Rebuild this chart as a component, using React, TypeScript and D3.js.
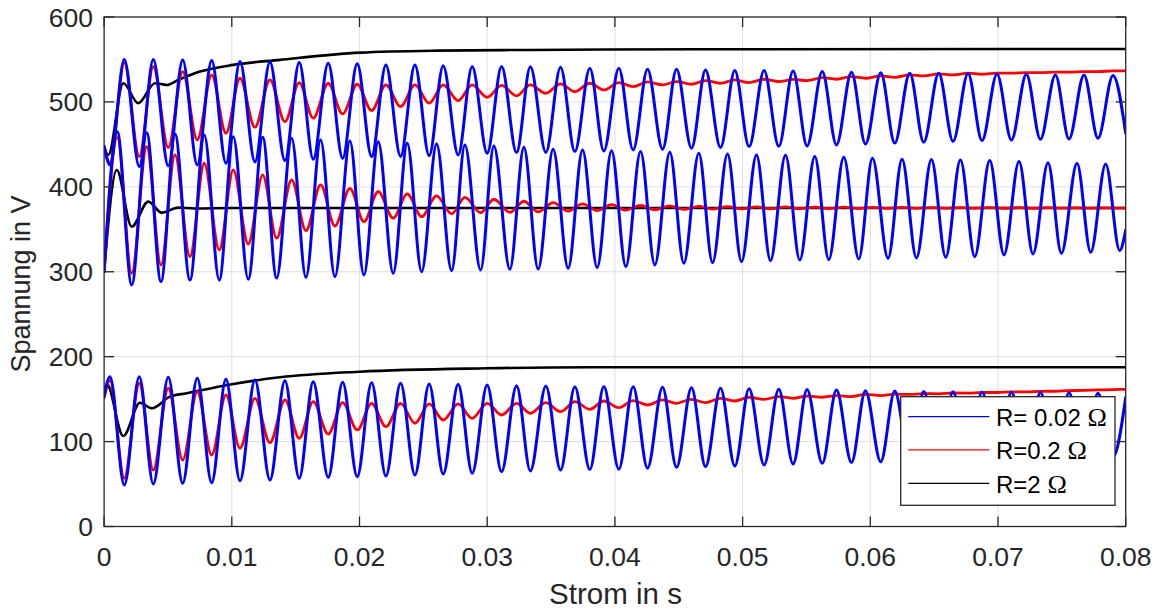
import React from "react";
import * as d3 from "d3";

// ---------- data (time in s, voltage in V) ----------
// extrema times shared by the upper and lower groups (start, then trough/peak pairs of the upper curve, end)
const upperTimes = [0,
  0.000462, 0.001581, 0.002756, 0.003852, 0.005026, 0.006153, 0.007296, 0.008423,
  0.009543, 0.010639, 0.011813, 0.012987, 0.014161, 0.015281, 0.016377, 0.017551,
  0.018679, 0.019822, 0.020949, 0.022068, 0.023219, 0.024339, 0.025458, 0.026554,
  0.027728, 0.028824, 0.029999, 0.031126, 0.032300, 0.033380, 0.034594, 0.035744,
  0.036864, 0.038038, 0.039134, 0.040308, 0.041428, 0.042555, 0.043730, 0.044825,
  0.046000, 0.047096, 0.048270, 0.049389, 0.050509, 0.051683, 0.052834, 0.053954,
  0.055049, 0.056239, 0.057351, 0.058525, 0.059621, 0.060819, 0.061915, 0.063089,
  0.064185, 0.065359, 0.066479, 0.067653, 0.068749, 0.069924, 0.071051, 0.072225,
  0.073321, 0.074495, 0.075560, 0.076734, 0.077830, 0.079005,
  0.08];

const upperBlue = [448,
  425.8, 550, 423.8, 550, 424.6, 549.5, 425.8, 548.7, 427.8, 547.5, 429.5, 547,
  430.9, 546.3, 432.5, 545.6, 433.7, 544.8, 435.6, 543.6, 435.8, 543.6, 436.7, 542.7,
  437.6, 541.6, 439.6, 541.6, 440.3, 541.4, 440.5, 540.9, 441.5, 539.7, 442.3, 539.7,
  443.5, 538.5, 444.3, 538.5, 445.5, 537.7, 446.2, 536.9, 447.4, 536.9, 447.8, 536.5,
  448.2, 535.7, 449.4, 535, 450.5, 534.2, 451.5, 533.8, 452.5, 533.8, 453.5, 533.5,
  454.4, 533, 455.2, 532.6, 456, 531.8, 456.4, 531.8, 457.2, 531,
  463];

const upperRed = [447,
  428, 546, 435.6, 541.6, 446.2, 535.7, 455.2, 531.8, 463.1, 527.9, 470.2, 525.9,
  476.8, 522.7, 480.8, 522, 485.9, 520.8, 489.8, 520, 494.5, 520, 498.5, 520,
  501.5, 520, 505.5, 519.5, 507.1, 520, 510.2, 521.2, 512.1, 522, 514.1, 522.7,
  518, 523.6, 520, 523.9, 520.8, 525.1, 522, 525.9, 522.7, 526.7, 523.9, 526.5,
  525.1, 528.5, 526.7, 529.8, 527.9, 530.6, 529, 531.8, 530.6, 533, 531.8, 533.8,
  532.6, 533.9, 533.8, 534.5, 534.4, 535, 535, 535.7, 535.7, 536.5,
  536.5];

const lowerBlue = [153,
  176.4, 48.9, 176.4, 50.1, 175.7, 50.9, 174.6, 51.6, 173.4, 53.9, 172.6, 54.8,
  171.7, 56.8, 170.6, 57.9, 169.8, 58.7, 169.4, 59.5, 168.7, 60.7, 167.8, 61.8,
  167.5, 62.7, 166.7, 64.5, 165.8, 65.4, 165.5, 66.5, 164.7, 67, 164.8, 67.4,
  164.5, 68.6, 164, 69.7, 163.3, 70.4, 162.8, 71.3, 162.2, 72.4, 161.6, 73.6,
  161.2, 74.5, 160.8, 75.3, 160, 76.3, 159.5, 77, 159, 77.8, 158.7, 78.5,
  158.3, 79.3, 158, 80, 157.7, 80.7, 157.4, 81.4, 157, 82,
  152];

const lowerRed = [151,
  172, 56.8, 168.7, 66.5, 162.8, 78.3, 158.8, 84.2, 154.9, 92.1, 151, 98.7,
  149, 103.9, 147, 108.9, 145.8, 113.7, 145.1, 117.5, 145.1, 121.6, 144.3, 125.4,
  144.3, 127.4, 145.1, 131.3, 145.1, 133.3, 145.8, 135.2, 147, 138, 147.8, 139.9,
  148.3, 143.1, 149, 145.1, 149.8, 145.8, 151, 147.8, 152.2, 149.8, 152.9, 151,
  153.7, 152.2, 154.1, 152.9, 155.7, 154.1, 155.8, 155.5, 156.5, 156.3, 157.2, 157.1,
  157.8, 157.8, 158.5, 158.5, 159.2, 159.3, 160, 160.3, 160.8, 161.2,
  161.6];

// extrema times of the middle group (start, then peak/trough pairs, end)
const middleTimes = [0,
  0.001033, 0.002161, 0.003335, 0.004454, 0.005550, 0.006725, 0.007844, 0.009018,
  0.010114, 0.011289, 0.012416, 0.013512, 0.014686, 0.015806, 0.016956, 0.018076,
  0.019250, 0.020346, 0.021465, 0.022640, 0.023736, 0.024863, 0.026037, 0.027212,
  0.028253, 0.029482, 0.030523, 0.031776, 0.032872, 0.033991, 0.035165, 0.036340,
  0.037467, 0.038610, 0.039737, 0.040857, 0.042007, 0.043127, 0.044301, 0.045397,
  0.046571, 0.047644, 0.048818, 0.049914, 0.051088, 0.052184, 0.053358, 0.054478,
  0.055652, 0.056748, 0.057922, 0.059097, 0.060169, 0.061390, 0.062486, 0.063614,
  0.064788, 0.065907, 0.067058, 0.068178, 0.069352, 0.070471, 0.071646, 0.072742,
  0.073916, 0.074965, 0.076186, 0.077259, 0.078433, 0.079529,
  0.08];

const middleBlue = [300,
  465, 284.5, 463.8, 288.4, 462.3, 290.3, 461.1, 290.3, 459.1, 291.2, 458.4, 292.5,
  457.2, 293.5, 455.2, 294.3, 454.1, 296.2, 453.2, 298.2, 451.3, 300.1, 450.5, 301.3,
  449.4, 302.1, 448.2, 302.9, 446.5, 303.2, 444.3, 304.1, 443.5, 304.8, 442.6, 306,
  441.5, 308, 440.7, 310, 439.6, 310.7, 438.7, 311.9, 437.6, 313.1, 437.2, 313.9,
  435.6, 314.3, 434.8, 315.1, 433.7, 315.9, 432.5, 316.3, 432.3, 317.1, 431.7, 317.8,
  430.9, 319.8, 429.7, 321, 428.5, 321.8, 427.8, 323, 427, 324.9,
  349];

const middleRed = [300,
  458, 298.2, 447.4, 308, 437.6, 317.8, 427.8, 325.7, 419.9, 332.7, 414, 339.5,
  408.1, 348.4, 402.2, 353.9, 398.3, 359, 394.3, 363, 391.6, 364.9, 389.3, 368.1,
  387.7, 369.6, 385.4, 370, 383, 370.5, 381.4, 371.5, 380, 372, 379, 372.5,
  378, 373, 377.5, 373.5, 377, 373.7, 376.7, 374, 376.5, 374.2, 376.3, 374.3,
  376.2, 374.4, 376, 374.5, 375.8, 374.6, 375.7, 374.7, 375.6, 374.7, 375.5, 374.8,
  375.5, 374.8, 375.4, 374.8, 375.4, 374.9, 375.3, 374.9, 375.3, 374.9,
  375];

// R = 2 Ω curves (heavily damped)
const upperBlackT = [0, 0.000329, 0.001503, 0.002677, 0.003985, 0.004901, 0.005809, 0.007507,
  0.010114, 0.01377, 0.020033, 0.026037, 0.033341, 0.046649, 0.08];
const upperBlack = [447, 437.6, 522, 498.5, 522, 520, 525.9, 535.7,
  543.6, 549.5, 558, 560.4, 561.2, 562, 562.4];

const middleBlackT = [0, 0.000986, 0.002161, 0.00346, 0.004509, 0.005809, 0.007116, 0.009856, 0.08];
const middleBlack = [300, 419.9, 353.1, 382.6, 369.6, 375.5, 374.5, 375, 375];

const lowerBlackT = [0, 0.000204, 0.001503, 0.00281, 0.003726, 0.005159, 0.006466,
  0.010114, 0.01377, 0.020033, 0.029952, 0.038038, 0.08];
const lowerBlack = [158, 168, 106.6, 145.8, 139.2, 152.9, 156.9,
  167.8, 175.7, 182.3, 186.3, 187.5, 187.5];

const xTicks = [0, 0.01, 0.02, 0.03, 0.04, 0.05, 0.06, 0.07, 0.08];
const xTickLabels = ["0", "0.01", "0.02", "0.03", "0.04", "0.05", "0.06", "0.07", "0.08"];
const yTicks = [0, 100, 200, 300, 400, 500, 600];

const legendNames = ["R= 0.02 ", "R=0.2 ", "R=2 "];
const legendColors = ["#0000ff", "#ff0000", "#000000"];

// ---------- layout ----------
const W = 1161, H = 610;
const L = 104.1, R = 1125.7, T = 17, B = 526.5;
const TXT = "#262626";
const FONT = "'Liberation Sans', Arial, Helvetica, sans-serif";

export default function App() {
  const x = d3.scaleLinear().domain([0, 0.08]).range([L, R]);
  const y = d3.scaleLinear().domain([0, 600]).range([B, T]);

  const mk = (ts: number[], vs: number[]) =>
    d3.line<number>()
      .x((_, i) => x(ts[i]))
      .y((v) => y(v))
      .curve(d3.curveMonotoneX)(vs) || "";

  const blackPaths = [mk(upperBlackT, upperBlack), mk(middleBlackT, middleBlack), mk(lowerBlackT, lowerBlack)];
  const redPaths = [mk(upperTimes, upperRed), mk(middleTimes, middleRed), mk(upperTimes, lowerRed)];
  const bluePaths = [mk(upperTimes, upperBlue), mk(middleTimes, middleBlue), mk(upperTimes, lowerBlue)];

  const tickLen = 10;
  const lgX = 900.7, lgY = 396.7, lgW = 214.3, lgH = 108.6;
  const rowY = [416.7, 449.8, 483.3];

  return (
    <svg width={W} height={H} style={{ position: "absolute", left: 0, top: 0, background: "#fff" }}
      fontFamily={FONT}>
      <defs>
        <clipPath id="plotclip">
          <rect x={L} y={T} width={R - L} height={B - T} />
        </clipPath>
      </defs>
      <rect x={0} y={0} width={W} height={H} fill="#fff" />
      {/* grid */}
      <g stroke="#dfdfdf" strokeWidth={1}>
        {xTicks.slice(1, -1).map((t) => (
          <line key={"gx" + t} x1={x(t)} x2={x(t)} y1={T} y2={B} />
        ))}
        {yTicks.slice(1, -1).map((v) => (
          <line key={"gy" + v} x1={L} x2={R} y1={y(v)} y2={y(v)} />
        ))}
      </g>
      {/* data */}
      <g clipPath="url(#plotclip)" fill="none" strokeLinejoin="round" strokeLinecap="round">
        {blackPaths.map((d, i) => <path key={"k" + i} d={d} stroke="#000" strokeWidth={2.6} />)}
        {redPaths.map((d, i) => <path key={"r" + i} d={d} stroke="#ff0000" strokeWidth={2.8} />)}
        {bluePaths.map((d, i) => <path key={"b" + i} d={d} stroke="#0000ff" strokeWidth={3} />)}
      </g>
      {/* axes box and ticks */}
      <g stroke={TXT} strokeWidth={1.3} fill="none">
        <rect x={L} y={T} width={R - L} height={B - T} />
        {xTicks.map((t) => (
          <g key={"tx" + t}>
            <line x1={x(t)} x2={x(t)} y1={B} y2={B - tickLen} />
            <line x1={x(t)} x2={x(t)} y1={T} y2={T + tickLen} />
          </g>
        ))}
        {yTicks.map((v) => (
          <g key={"ty" + v}>
            <line x1={L} x2={L + tickLen} y1={y(v)} y2={y(v)} />
            <line x1={R} x2={R - tickLen} y1={y(v)} y2={y(v)} />
          </g>
        ))}
      </g>
      {/* tick labels */}
      <g fill={TXT} fontSize={26.5}>
        {xTicks.map((t, i) => (
          <text key={"lx" + t} x={x(t)} y={566} textAnchor="middle">{xTickLabels[i]}</text>
        ))}
        {yTicks.map((v) => (
          <text key={"ly" + v} x={93} y={y(v) + 9.5} textAnchor="end">{v}</text>
        ))}
      </g>
      {/* axis labels */}
      <text x={615.5} y={604} textAnchor="middle" fontSize={29.5} fill={TXT}>Strom in s</text>
      <text transform={`translate(30,284) rotate(-90)`} textAnchor="middle" fontSize={27} fill={TXT}>
        Spannung in V
      </text>
      {/* legend */}
      <g>
        <rect x={lgX} y={lgY} width={lgW} height={lgH} fill="#fff" stroke={TXT} strokeWidth={1.3} />
        {legendNames.map((n, i) => (
          <g key={"lg" + i}>
            <line x1={908.3} x2={989.3} y1={rowY[i]} y2={rowY[i]} stroke={legendColors[i]} strokeWidth={1.3} />
            <text x={996} y={rowY[i] + 9.5} fontSize={24} fill="#000">
              {n}
              <tspan fontFamily="'Liberation Serif', 'Times New Roman', serif" fontSize={26}>Ω</tspan>
            </text>
          </g>
        ))}
      </g>
    </svg>
  );
}
